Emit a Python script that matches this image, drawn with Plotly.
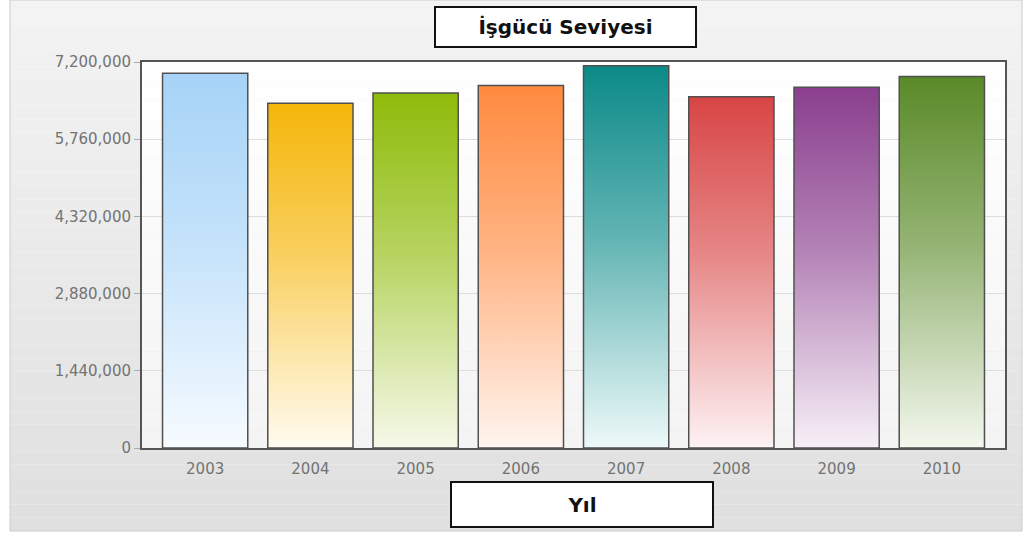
import plotly.graph_objects as go

# data
years = ["2003", "2004", "2005", "2006", "2007", "2008", "2009", "2010"]
workforce = [6990000, 6430000, 6620000, 6760000, 7130000, 6550000, 6730000, 6930000]
top_colors = ["#a6d3f7", "#f5b60a", "#8ebb0a", "#ff8a3f", "#0b8a88", "#d84545", "#8a3f8e", "#5a8a28"]
bottom_colors = ["#f6fbff", "#fffbf0", "#f6f9ea", "#fff5ef", "#eef9f9", "#fdf2f3", "#f7f0f7", "#f3f7ee"]
y_ticks = [0, 1440000, 2880000, 4320000, 5760000, 7200000]

W, H = 1031, 536
L, R, T, B = 142, 1005, 62, 448   # plot area in px


def px(x):
    return (x - L) / (R - L)


def py(y):
    return (B - y) / (B - T)


def mix(c1, c2, t):
    a = [int(c1[i:i + 2], 16) for i in (1, 3, 5)]
    b = [int(c2[i:i + 2], 16) for i in (1, 3, 5)]
    return "#%02x%02x%02x" % tuple(round(a[k] + (b[k] - a[k]) * t) for k in range(3))


fig = go.Figure()

bw = 0.81
for i, (yr, v) in enumerate(zip(years, workforce)):
    fig.add_trace(go.Scatter(
        x=[i - bw / 2, i - bw / 2, i + bw / 2, i + bw / 2, i - bw / 2],
        y=[0, v, v, 0, 0],
        fill="toself",
        mode="lines",
        line=dict(color="#505050", width=1.5),
        fillgradient=dict(type="vertical",
                          colorscale=[[0, bottom_colors[i]],
                                      [0.55, mix(bottom_colors[i], top_colors[i], 0.62)],
                                      [1, top_colors[i]]],
                          start=0, stop=v),
        name=yr,
        hoverinfo="skip",
        showlegend=False,
    ))

# background panel with a soft vertical gradient
shapes = []
n = 40
top_y, bot_y = 0, 531
for k in range(n):
    y0 = top_y + (bot_y - top_y) * k / n
    y1 = top_y + (bot_y - top_y) * (k + 1) / n
    shapes.append(dict(type="rect", xref="paper", yref="paper", layer="below",
                       x0=px(10), x1=px(1022), y0=py(y1), y1=py(y0),
                       fillcolor=mix("#f3f3f3", "#e0e0e0", k / (n - 1)), line_width=0))
shapes.append(dict(type="rect", xref="paper", yref="paper", layer="below",
                   x0=px(10), x1=px(1022), y0=py(bot_y), y1=py(top_y),
                   fillcolor="rgba(0,0,0,0)", line=dict(color="#cccccc", width=1)))
# plot area
n2 = 20
for k in range(n2):
    y0 = T + (B - T) * k / n2
    y1 = T + (B - T) * (k + 1) / n2
    shapes.append(dict(type="rect", xref="paper", yref="paper", layer="below",
                       x0=0, x1=1, y0=py(y1), y1=py(y0),
                       fillcolor=mix("#ffffff", "#f4f4f4", k / (n2 - 1)), line_width=0))

fig.update_layout(
    width=W, height=H,
    margin=dict(l=L, r=W - R, t=T, b=H - B),
    paper_bgcolor="white",
    plot_bgcolor="rgba(0,0,0,0)",
    font=dict(family="DejaVu Sans", size=15, color="#737373"),
    shapes=shapes,
    xaxis=dict(
        range=[-0.6, 7.6], tickmode="array", tickvals=list(range(len(years))), ticktext=years,
        showgrid=False, zeroline=False, showline=True, linecolor="#555555", linewidth=2,
        mirror=True, ticks="", ticklabelstandoff=6, tickfont=dict(size=15, color="#737373"),
    ),
    yaxis=dict(
        range=[0, 7200000], tickmode="array", tickvals=y_ticks,
        ticktext=[f"{t:,}" for t in y_ticks],
        showgrid=True, gridcolor="#dddddd", gridwidth=1, zeroline=False,
        showline=True, linecolor="#555555", linewidth=2, mirror=True,
        ticks="outside", ticklen=6, tickcolor="#aaaaaa", tickfont=dict(size=15, color="#737373"),
    ),
    annotations=[
        dict(text="<b>İşgücü Seviyesi</b>", xref="paper", yref="paper",
             x=px(565.5), y=py(27), xanchor="center", yanchor="middle", showarrow=False,
             width=259, height=38, bgcolor="white", bordercolor="#111111", borderwidth=2,
             borderpad=0, font=dict(family="DejaVu Sans", size=20, color="#111111")),
        dict(text="<b>Yıl</b>", xref="paper", yref="paper",
             x=px(582), y=py(504.5), xanchor="center", yanchor="middle", showarrow=False,
             width=260, height=43, bgcolor="white", bordercolor="#111111", borderwidth=2,
             borderpad=0, font=dict(family="DejaVu Sans", size=20, color="#111111")),
    ],
)

fig.write_html("out.html", config={"displayModeBar": False},
               post_script="document.body.style.margin='0';")
